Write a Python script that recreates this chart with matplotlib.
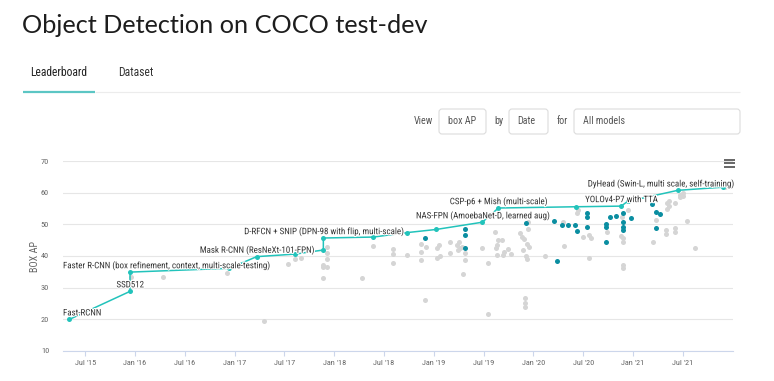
import matplotlib
matplotlib.use("Agg")
import matplotlib.pyplot as plt
from matplotlib import patheffects as pe
from matplotlib.patches import FancyBboxPatch
from matplotlib.lines import Line2D
from matplotlib.transforms import IdentityTransform

W, H = 774, 381

# ---------------- data ----------------
sota_dates = [2015.340, 2015.950, 2015.950, 2016.947, 2017.222, 2017.606, 2017.891, 2017.891,
              2018.393, 2018.728, 2019.022, 2019.487, 2019.648, 2020.428, 2020.880, 2020.947,
              2021.449, 2021.904]
sota_ap = [19.9, 28.8, 34.9, 36.1, 39.8, 40.6, 41.9, 45.7,
           46.0, 47.4, 48.4, 50.7, 55.2, 55.6, 55.8, 57.3,
           60.8, 61.8]
sota_labels = ["Fast-RCNN", "SSD512", "Faster R-CNN (box refinement, context, multi-scale-testing)", "",
               "Mask R-CNN (ResNeXt-101-FPN)", "", "", "D-RFCN + SNIP (DPN-98 with flip, multi-scale)",
               "", "", "", "NAS-FPN (AmoebaNet-D, learned aug)", "CSP-p6 + Mish (multi-scale)", "",
               "YOLOv4-P7 with TTA", "", "DyHead (Swin-L, multi scale, self-training)", ""]

other_dates = [2015.957, 2016.278, 2016.927, 2017.298, 2017.533, 2017.606, 2017.664,
               2017.925, 2017.931, 2017.931, 2017.891, 2017.925, 2017.891, 2017.891,
               2018.276, 2018.393, 2018.587, 2018.587, 2018.587, 2018.728,
               2018.871, 2018.871, 2018.871, 2018.912, 2018.922,
               2019.029, 2019.055, 2019.029, 2019.062, 2019.163, 2019.163,
               2019.230, 2019.256, 2019.280, 2019.246, 2019.263, 2019.313, 2019.313, 2019.296,
               2019.481, 2019.547, 2019.547,
               2019.614, 2019.631, 2019.648, 2019.624, 2019.631, 2019.698, 2019.705, 2019.748,
               2019.772, 2019.682,
               2019.946, 2019.946, 2019.865, 2019.882, 2019.906, 2019.933, 2019.899, 2019.959,
               2019.926, 2019.933, 2019.916, 2019.916, 2019.916,
               2020.116, 2020.300, 2020.307, 2020.438, 2020.445, 2020.495, 2020.561, 2020.575,
               2020.561, 2020.739, 2020.890, 2020.880, 2020.903, 2020.897, 2020.897, 2020.897,
               2020.953, 2021.231, 2021.204, 2021.341, 2021.358, 2021.341, 2021.364,
               2021.331, 2021.331, 2021.422, 2021.422, 2021.422,
               2021.472, 2021.499, 2021.472, 2021.499, 2021.539, 2021.622, 2021.924]
other_ap = [33.4, 33.2, 34.7, 19.4, 37.5, 39.0, 39.5,
            42.8, 40.9, 39.0, 37.1, 36.6, 36.5, 33.1,
            32.9, 43.3, 42.1, 40.6, 37.7, 40.4,
            43.8, 41.4, 38.7, 26.1, 42.9,
            42.4, 43.5, 39.3, 40.0, 44.5, 40.9,
            43.5, 44.5, 42.9, 41.9, 42.4, 40.9, 38.7, 34.3,
            42.6, 37.9, 21.5,
            47.7, 43.5, 45.1, 42.4, 40.3, 40.3, 41.4, 42.1,
            40.6, 45.1,
            50.9, 48.5, 47.2, 45.9, 45.3, 43.8, 41.9, 42.9,
            40.0, 39.0, 26.6, 25.0, 23.9,
            40.0, 50.9, 43.2, 53.5, 54.6, 45.9, 46.6, 45.8,
            39.3, 47.7, 52.4, 46.3, 45.6, 44.5, 37.1, 36.1,
            54.6, 51.4, 44.5, 56.8, 55.8, 55.0, 57.5,
            48.2, 47.0, 48.8, 47.7, 56.7,
            58.7, 59.8, 59.2, 58.9, 51.1, 42.6, 61.8]

highlight_dates = [2018.912, 2019.316, 2019.316, 2019.316, 2019.923, 2020.210, 2020.240,
                   2020.284, 2020.344, 2020.418, 2020.435, 2020.535, 2020.535, 2020.535,
                   2020.724, 2020.724, 2020.724, 2020.768, 2020.826,
                   2020.896, 2020.896, 2020.896, 2020.896, 2020.980,
                   2021.188, 2021.231, 2021.271, 2021.231]
highlight_ap = [45.8, 48.5, 46.6, 42.6, 50.5, 51.1, 38.5,
                49.9, 49.9, 49.9, 48.0, 53.5, 52.4, 49.3,
                50.1, 49.1, 44.5, 52.3, 52.7,
                53.5, 50.9, 49.1, 48.2, 52.1,
                56.4, 54.0, 53.3, 48.8]

xtick_pos = [2015.5, 2016.0, 2016.5, 2017.0, 2017.5, 2018.0, 2018.5, 2019.0, 2019.5,
             2020.0, 2020.5, 2021.0, 2021.5]
xtick_labels = ["Jul '15", "Jan '16", "Jul '16", "Jan '17", "Jul '17", "Jan '18", "Jul '18",
                "Jan '19", "Jul '19", "Jan '20", "Jul '20", "Jan '21", "Jul '21"]
ytick_vals = [10, 20, 30, 40, 50, 60, 70]

# ---------------- styles ----------------
TEAL = "#22c3bb"
DARK = "#0b8ea1"
GREY = "#d5d5d5"
TITLE_FONT = ["Lato", "DejaVu Sans"]
UI_FONT = ["Roboto Condensed", "DejaVu Sans"]
CH_FONT = ["Roboto Condensed", "DejaVu Sans"]

fig = plt.figure(figsize=(W / 100, H / 100), dpi=100)
fig.patch.set_facecolor("white")
R = fig.canvas.get_renderer()
ID = IdentityTransform()


def fx(px):
    return px / W


def fy(py):
    return 1 - py / H


def fit(t, size, use_height=False):
    for _ in range(3):
        bb = t.get_window_extent(R)
        cur = bb.height if use_height else bb.width
        t.set_fontsize(t.get_fontsize() * size / cur)
    return t


def ftext(x, y, s, fs, **kw):
    return fig.text(fx(x), fy(y), s, fontsize=fs, **kw)


def box(x0, y0, x1, y1):
    p = FancyBboxPatch((x0, H - y1), x1 - x0, y1 - y0,
                       boxstyle="round,pad=0,rounding_size=3",
                       transform=ID, facecolor="white", edgecolor="#dcdcdc", linewidth=0.8)
    fig.add_artist(p)


def hline(x0, x1, y, color, lw):
    fig.add_artist(Line2D([x0, x1], [H - y, H - y], transform=ID, color=color, linewidth=lw,
                          solid_capstyle="butt"))


# ---------------- page header ----------------
title = ftext(22, 33, "Object Detection on COCO test-dev", 20, family=TITLE_FONT, color="#1d1d1d",
              ha="left", va="baseline")
fit(title, 407)

tab1 = ftext(30.5, 73, "Leaderboard", 8, family=UI_FONT, color="#222", ha="left", va="center")
fit(tab1, 58)
ftext(118, 73, "Dataset", tab1.get_fontsize(), family=UI_FONT, color="#333", ha="left", va="center")
hline(95, 740, 92, "#ececec", 0.8)
hline(23, 95, 91.5, "#5cc6c4", 1.6)

box(439, 109, 486, 134)
box(509, 109, 548, 134)
box(574, 109, 740, 134)
ref_ui = ftext(583, 121.5, "All models", 7, family=UI_FONT, color="#555", ha="left", va="center")
fit(ref_ui, 42)
ufs = ref_ui.get_fontsize()
for xx, s in ((414, "View"), (448, "box AP"), (494, "by"), (517, "Date"), (557, "for")):
    ftext(xx, 121.5, s, ufs, family=UI_FONT, color="#555", ha="left", va="center")

# hamburger menu
for yy in (159.5, 163.0, 166.5):
    hline(723.5, 734.5, yy, "#666666", 1.4)

# ---------------- chart ----------------
L, Rt, T, B = 63, 733, 161.3, 350.7
ax = fig.add_axes([fx(L), fy(B), (Rt - L) / W, (B - T) / H])
x_per_year = 99.6
ax.set_xlim(2016 + (L - 135) / x_per_year, 2016 + (Rt - 135) / x_per_year)
ax.set_ylim(10, 70)
ax.set_facecolor("white")
for s in ("top", "right", "left"):
    ax.spines[s].set_visible(False)
ax.spines["bottom"].set_color("#ccd6eb")
ax.spines["bottom"].set_linewidth(0.8)
ax.set_yticks(ytick_vals)
ax.yaxis.grid(True, color="#e6e6e6", linewidth=0.8)
ax.set_axisbelow(True)
ax.set_xticks(xtick_pos)
ax.set_xticklabels(xtick_labels)
ax.tick_params(axis="x", length=3.5, width=0.8, color="#ccd6eb", pad=3, labelcolor="#666666")
ax.tick_params(axis="y", length=0, pad=10, labelcolor="#666666")
xl = ax.get_xticklabels()
for lab in xl + ax.get_yticklabels():
    lab.set_family(CH_FONT)
fit(xl[1], 23)
tfs = xl[1].get_fontsize()
for lab in xl + ax.get_yticklabels():
    lab.set_fontsize(tfs)

ax.scatter(other_dates, other_ap, s=13, color=GREY, linewidths=0, zorder=2)
ax.scatter(highlight_dates, highlight_ap, s=13, color=DARK, linewidths=0, zorder=3)
ax.plot(sota_dates, sota_ap, color=TEAL, linewidth=1.1, marker="o", markersize=3.6,
        markeredgewidth=0, zorder=4)

ylab = fig.text(fx(35), fy(256), "BOX AP", rotation=90, family=CH_FONT, color="#666666",
                ha="center", va="center", fontsize=6)
fit(ylab, 31, use_height=True)

# data labels
anns = []
for d, v, s in zip(sota_dates, sota_ap, sota_labels):
    if not s:
        continue
    a = ax.annotate(s, (d, v), xytext=(0, 6.5 * 0.72), textcoords="offset points",
                    ha="center", va="center", family=CH_FONT, color="#333333", fontsize=5,
                    zorder=5,
                    path_effects=[pe.withStroke(linewidth=1.6, foreground="white")])
    anns.append(a)

ref = anns[2]
fit(ref, 207)
fs = ref.get_fontsize()
for a in anns:
    a.set_fontsize(fs)

axbb = ax.get_window_extent(R)
for a in anns:
    bb = a.get_window_extent(R)
    dx = 0
    if bb.x0 < axbb.x0:
        dx = axbb.x0 - bb.x0
    elif bb.x1 > axbb.x1:
        dx = axbb.x1 - bb.x1
    if dx:
        a.xyann = (dx * 0.72, a.xyann[1])

fig.savefig("out.png", dpi=100, facecolor="white")
